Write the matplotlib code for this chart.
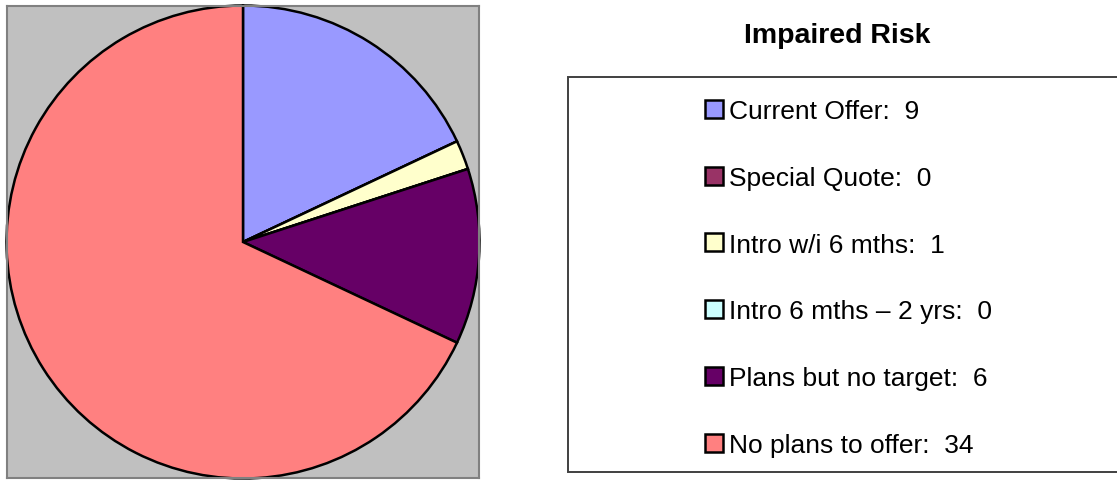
import matplotlib
matplotlib.use("Agg")
import matplotlib.pyplot as plt
from matplotlib.patches import Rectangle

plt.rcParams['font.family'] = ['Liberation Sans', 'DejaVu Sans']

labels = ["Current Offer:  9", "Special Quote:  0", "Intro w/i 6 mths:  1",
          "Intro 6 mths \u2013 2 yrs:  0", "Plans but no target:  6", "No plans to offer:  34"]
values = [9, 0, 1, 0, 6, 34]
colors = ["#9999FF", "#993366", "#FFFFCC", "#CCFFFF", "#660066", "#FF8080"]
title = "Impaired Risk"

W, H = 1117, 481
fig = plt.figure(figsize=(W / 100, H / 100), dpi=100)

# pie area
x0, y0, x1, y1 = 7, 7, 479, 479
ax = fig.add_axes([x0 / W, 1 - y1 / H, (x1 - x0) / W, (y1 - y0) / H])
cx, cy, r = 243, 243, 236.5
wedges, _ = ax.pie(values, colors=colors, startangle=90, counterclock=False,
                   wedgeprops=dict(edgecolor="black", linewidth=1.8))
ax.set_frame_on(True)
ax.set_facecolor("#C0C0C0")
for s in ax.spines.values():
    s.set_visible(True)
    s.set_color("#808080")
    s.set_linewidth(1.5)
ax.set_xticks([]); ax.set_yticks([])
ax.set_xlim(-(cx - x0) / r, (x1 - cx) / r)
ax.set_ylim(-(y1 - cy) / r, (cy - y0) / r)
ax.set_aspect("equal")

# title
fig.text(837 / W, 1 - 36 / H, title, ha="center", va="center",
         fontsize=20.5, fontweight="bold")

# legend frame
fig.patches.append(Rectangle((568 / W, 1 - 473 / H), (W - 568 + 5) / W, (473 - 78) / H,
                             transform=fig.transFigure, facecolor="white",
                             edgecolor="#404040", linewidth=1.4, zorder=0))

leg = fig.legend(wedges, labels, loc="center left",
                 bbox_to_anchor=(705 / W, 1 - 279 / H), frameon=False,
                 fontsize=19, handlelength=0.68, handleheight=0.68,
                 handletextpad=0.23, labelspacing=1.62, borderpad=0, borderaxespad=0)
for h in leg.legend_handles:
    h.set_linewidth(1.8)
    h.set_edgecolor("black")

fig.savefig("out.png", dpi=100)
